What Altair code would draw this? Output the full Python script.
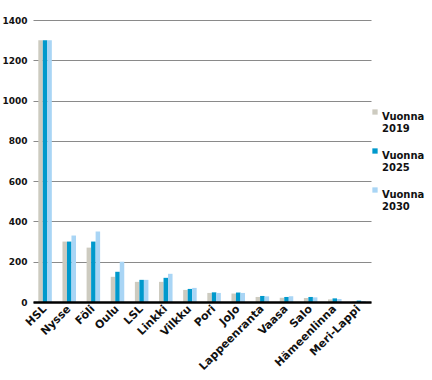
import altair as alt
import pandas as pd

categories = ["HSL", "Nysse", "Föli", "Oulu", "LSL", "Linkki", "Vilkku", "Pori",
              "JoJo", "Lappeenranta", "Vaasa", "Salo", "Hämeenlinna", "Meri-Lappi"]
years = ["Vuonna 2019", "Vuonna 2025", "Vuonna 2030"]
v2019 = [1300, 300, 270, 125, 100, 100, 60, 45, 42, 25, 21, 20, 13, 3]
v2025 = [1300, 300, 300, 150, 110, 120, 65, 48, 47, 30, 25, 25, 18, 7]
v2030 = [1300, 330, 350, 200, 110, 140, 70, 45, 45, 28, 28, 23, 15, 5]
colors = ["#cdcbc0", "#0099cc", "#a9d5f5"]
y_ticks = [0, 200, 400, 600, 800, 1000, 1200, 1400]

rows = []
for yr, vals in zip(years, [v2019, v2025, v2030]):
    for c, v in zip(categories, vals):
        rows.append({"cat": c, "year": yr, "value": v})
df = pd.DataFrame(rows)

FONT = "DejaVu Sans"

bars = alt.Chart(df).mark_bar().encode(
    x=alt.X("cat:N", sort=categories, title=None,
            scale=alt.Scale(paddingInner=0.44, paddingOuter=0.22),
            axis=alt.Axis(labelAngle=-45, labelAlign="right", labelBaseline="middle",
                          labelFontSize=11, labelFontWeight="bold", labelFont=FONT,
                          labelColor="#111", labelPadding=5, ticks=False,
                          domainColor="#000", domainWidth=2.5, grid=False,
                          zindex=1)),
    xOffset=alt.XOffset("year:N", sort=years),
    y=alt.Y("value:Q", title=None,
            scale=alt.Scale(domain=[0, 1400], nice=False),
            axis=alt.Axis(values=y_ticks, format="d", labelFontSize=9,
                          labelFontWeight="bold",
                          labelFont=FONT, labelColor="#111", labelPadding=6,
                          ticks=False, domain=False, grid=True, gridColor="#8a8a8a",
                          gridWidth=1.2)),
    color=alt.Color("year:N", sort=years,
                    scale=alt.Scale(domain=years, range=colors),
                    legend=alt.Legend(title=None, orient="none", legendX=337, legendY=87,
                                      symbolType="square", symbolSize=28,
                                      symbolStrokeWidth=0,
                                      labelExpr="split(datum.label, ' ')",
                                      labelFontSize=10, labelFontWeight="bold",
                                      labelFont=FONT, labelColor="#111",
                                      labelOffset=2, labelBaseline="top",
                                      rowPadding=12, labelLimit=100)),
)

chart = bars.properties(
    width=338, height=282,
    autosize=alt.AutoSizeParams(type="none"),
    padding={"left": 33, "top": 20, "right": 61, "bottom": 78},
).configure(background="#ffffff").configure_view(stroke=None)

chart.save("out.html", embed_options={"renderer": "svg", "actions": False})
